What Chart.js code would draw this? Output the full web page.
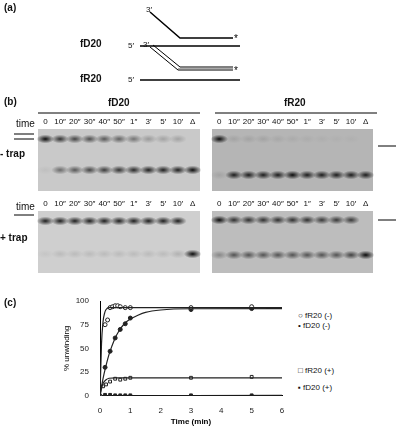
<!DOCTYPE html>
<html><head><meta charset="utf-8">
<script src="https://cdn.jsdelivr.net/npm/chart.js@4"></script>
<style>
body{margin:0;width:400px;height:427px;background:#fff;font-family:Arial,"Liberation Sans",sans-serif;position:relative;overflow:hidden}
.t{position:absolute;font-size:9px;color:#111;white-space:nowrap}
.b{font-weight:bold;font-size:10px}
#deco{position:absolute;left:0;top:0}
#wrap{position:absolute;left:60px;top:293px;width:230px;height:134px}
</style></head><body>
<canvas id="deco" width="400" height="290"></canvas>
<div class="t b" style="left:4px;top:2px">(a)</div>
<div class="t b" style="left:80px;top:38px">fD20</div>
<div class="t b" style="left:80px;top:73px">fR20</div>
<div class="t" style="left:146px;top:5px;font-size:8px">3′</div>
<div class="t" style="left:143px;top:40px;font-size:8px">3′</div>
<div class="t" style="left:128px;top:41px;font-size:8px">5′</div>
<div class="t" style="left:128px;top:75px;font-size:8px">5′</div>
<div class="t b" style="left:4px;top:96px">(b)</div>
<div class="t b" style="left:108px;top:97px">fD20</div>
<div class="t b" style="left:284px;top:97px">fR20</div>
<div class="t" style="left:16px;top:118px;font-size:10px">time</div>
<div class="t" style="left:16px;top:201px;font-size:10px">time</div>
<div class="t b" style="left:0px;top:148px">- trap</div>
<div class="t b" style="left:0px;top:232px">+ trap</div>
<div class="t b" style="left:4px;top:297px">(c)</div>
<div class="t" style="left:298px;top:311px;font-size:8px">○ fR20 (-)</div>
<div class="t" style="left:298px;top:321px;font-size:8px">• fD20 (-)</div>
<div class="t" style="left:298px;top:366px;font-size:8px">□ fR20 (+)</div>
<div class="t" style="left:298px;top:383px;font-size:8px">▪ fD20 (+)</div>
<div id="wrap"><canvas id="c"></canvas></div>
<script>
const lanes=["0","10″","20″","30″","40″","50″","1″","3′","5′","10′","Δ"];
const fR20minus=[[0,0],[0.167,75],[0.25,80],[0.333,93],[0.417,94],[0.5,95],[0.583,95],[0.667,94],[0.833,93],[1,93],[3,93],[5,94]];
const fD20minus=[[0,0],[0.167,30],[0.333,47],[0.5,61],[0.667,70],[0.833,76],[1,82],[3,91],[5,92]];
const fR20plus=[[0,0],[0.1,10],[0.2,12],[0.333,15],[0.5,18],[0.667,17],[0.833,18],[1,19],[3,19],[5,20]];
const fD20plus=[[0,0],[0.167,1],[0.333,1],[0.5,0.5],[0.667,0.5],[0.833,0.5],[1,0.5],[3,0.5],[5,0.5]];
const fitR20minus=[[0,0],[0.05,55],[0.1,78],[0.15,87],[0.2,91],[0.3,93],[6,93]];
const fitD20minus=[[0,0],[0.1,18],[0.2,32],[0.3,44],[0.4,53],[0.5,61],[0.6,67],[0.8,76],[1,81],[1.25,85],[1.5,88],[2,90.5],[3,91.8],[6,92]];
const fitR20plus=[[0,0],[0.05,8],[0.1,13],[0.2,17],[0.3,18.5],[0.5,19],[6,19]];
const fitD20plus=[[0,0],[6,0.5]];
const xTicks=[0,1,2,3,4,5,6];
const yTicks=[0,25,50,75,100];
const gelTopUpper=[1,.8,.7,.65,.6,.55,.45,.25,.2,.2,0];
const gelTopLower=[.05,.5,.6,.7,.75,.8,.85,.9,.9,.9,1];
const gelRTopUpper=[1,.1,.1,.1,.08,.06,.05,.04,.03,.03,0];
const gelRTopLower=[.1,.9,.9,.9,.9,1,.9,.9,.9,.9,.9];
const gelBotUpper=[.9,.9,.9,.9,.9,.9,.9,.9,.9,.9,0];
const gelBotLower=[.05,.1,.1,.1,.1,.1,.1,.1,.1,.15,1];
const gelRBotUpper=[1,.8,.8,.8,.8,.8,.8,.75,.75,.75,0];
const gelRBotLower=[.3,.6,.6,.6,.6,.6,.6,.6,.6,.7,1];

const d=document.getElementById('deco').getContext('2d');
d.strokeStyle='#000';d.lineWidth=1.5;
function L(p){d.beginPath();d.moveTo(p[0][0],p[0][1]);for(const q of p.slice(1))d.lineTo(q[0],q[1]);d.stroke();}
L([[150,12],[180,38],[233,38]]);L([[140,46],[240,46]]);
d.lineWidth=1;L([[150,47],[178,70],[233,70]]);L([[153,45],[180,67],[233,67]]);
d.strokeStyle='#aaa';L([[178,68.5],[233,68.5]]);d.strokeStyle='#000';d.lineWidth=1.5;
L([[140,80],[240,80]]);
d.font='10px Arial';d.fillStyle='#000';d.fillText('*',234,42);d.fillText('*',234,74);
d.lineWidth=1;L([[38,113],[200,113]]);L([[215,113],[377,113]]);
function gel(x,y,w,h,bg,up,lo,upY,loY){
 d.fillStyle=bg;d.fillRect(x,y,w,h);
 const lw=w/11;
 d.font='8px Arial';d.textAlign='center';
 lanes.forEach((l,i)=>{const cx=x+lw*(i+0.5);d.fillStyle='#111';d.fillText(l,cx,y-5);
  [[up[i],upY],[lo[i],loY]].forEach(([v,yy])=>{if(v<=0)return;
   const g=d.createRadialGradient(cx,y+yy,0,cx,y+yy,lw*0.6);
   g.addColorStop(0,`rgba(10,10,10,${v})`);g.addColorStop(1,'rgba(10,10,10,0)');
   d.save();d.translate(cx,y+yy);d.scale(1,0.5);d.translate(-cx,-(y+yy));
   d.fillStyle=g;d.beginPath();d.arc(cx,y+yy,lw*0.6,0,7);d.fill();d.restore();});
 });
}
gel(38,129,162,62,'#c9c9c9',gelTopUpper,gelTopLower,10,41);
gel(212,129,161,62,'#b5b5b5',gelRTopUpper,gelRTopLower,10,46);
gel(38,211,162,62,'#cfcfcf',gelBotUpper,gelBotLower,10,43);
gel(212,211,161,62,'#bdbdbd',gelRBotUpper,gelRBotLower,9,44);
d.textAlign='left';
L([[14,134],[34,134]]);L([[14,139],[34,139]]);L([[14,215],[34,215]]);
L([[378,146],[396,146]]);L([[378,220],[396,220]]);

const pts=a=>a.map(([x,y])=>({x,y}));
const line=(a)=>({type:'line',data:pts(a),borderColor:'#222',borderWidth:1.2,pointRadius:0,cubicInterpolationMode:'monotone',fill:false});
const sc=(a,style,fill)=>({type:'scatter',data:pts(a),pointStyle:style,pointRadius:2,borderColor:'#222',borderWidth:1,backgroundColor:fill});
new Chart(document.getElementById('c'),{
 data:{datasets:[line(fitR20minus),line(fitD20minus),line(fitR20plus),line(fitD20plus),
  sc(fR20minus,'circle','#fff'),sc(fD20minus,'circle','#222'),sc(fR20plus,'rect','#fff'),sc(fD20plus,'rect','#222')]},
 options:{responsive:true,maintainAspectRatio:false,animation:false,
  layout:{padding:{top:8,right:8}},
  plugins:{legend:{display:false},tooltip:{enabled:false}},
  scales:{
   x:{type:'linear',min:0,max:6,grid:{display:false},border:{color:'#000'},
    afterBuildTicks:a=>{a.ticks=xTicks.map(v=>({value:v}))},
    ticks:{color:'#222',font:{size:8},padding:2},
    title:{display:true,text:'Time (min)',color:'#000',font:{size:8,weight:'bold'},padding:0}},
   y:{min:0,max:100,grid:{display:false},border:{color:'#000'},
    afterBuildTicks:a=>{a.ticks=yTicks.map(v=>({value:v}))},
    afterFit:a=>{a.width=40},
    ticks:{color:'#222',font:{size:8}},
    title:{display:true,text:'% unwinding',color:'#000',font:{size:8},padding:2}}
  }}
});
</script></body></html>
